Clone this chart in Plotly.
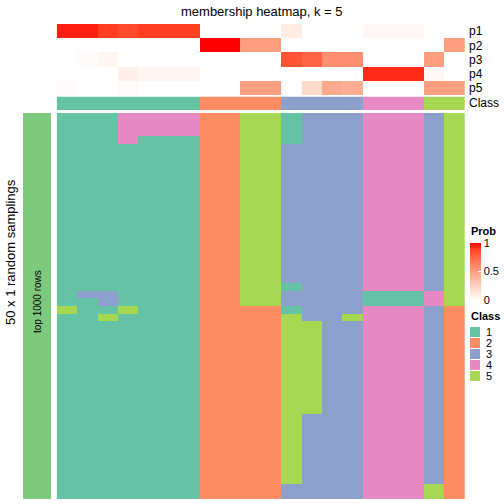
import plotly.graph_objects as go

W = H = 504
FONT = "Liberation Sans, Arial, sans-serif"

title = "membership heatmap, k = 5"
row_title = "50 x 1 random samplings"
slice_title = "top 1000 rows"
class_names = ["1", "2", "3", "4", "5"]
class_colors = ["#66C2A5", "#FC8D62", "#8DA0CB", "#E78AC3", "#A6D854"]
prob_rows = ["p1", "p2", "p3", "p4", "p5"]
class_row_label = "Class"
prob_ticks = [0, 0.5, 1]

# membership probabilities per sample (20 samples)
p1 = [0.95, 0.95, 0.90, 0.86, 0.90, 0.90, 0.90, 0, 0, 0, 0, 0.10, 0, 0, 0, 0.04, 0.04, 0.04, 0, 0]
p2 = [0, 0, 0, 0, 0, 0, 0, 1.0, 1.0, 0.5, 0.5, 0, 0, 0, 0, 0, 0, 0, 0, 0.5]
p3 = [0, 0.02, 0.05, 0, 0, 0, 0, 0, 0, 0, 0, 0.82, 0.76, 0.57, 0.57, 0, 0, 0, 0.5, 0]
p4 = [0, 0, 0, 0.08, 0.05, 0.05, 0.05, 0, 0, 0, 0, 0, 0, 0, 0, 0.93, 0.93, 0.93, 0.04, 0]
p5 = [0.02, 0, 0, 0.02, 0, 0, 0, 0, 0, 0.5, 0.5, 0, 0.2, 0.44, 0.42, 0, 0, 0, 0.5, 0.5]
sample_class = [1, 1, 1, 1, 1, 1, 1, 2, 2, 2, 2, 3, 3, 3, 3, 4, 4, 4, 5, 5]

# class assignment in each of 50 samplings, one string per sample (rows top->bottom)
samplings = [
    "1111111111 1111111111 1111151111 1111111111 1111111111",
    "1111111111 1111111111 1113111111 1111111111 1111111111",
    "1111111111 1111111111 1113315111 1111111111 1111111111",
    "4444111111 1111111111 1111151111 1111111111 1111111111",
    "4441111111 1111111111 1111111111 1111111111 1111111111",
    "4441111111 1111111111 1111111111 1111111111 1111111111",
    "4441111111 1111111111 1111111111 1111111111 1111111111",
    "2222222222 2222222222 2222222222 2222222222 2222222222",
    "2222222222 2222222222 2222222222 2222222222 2222222222",
    "5555555555 5555555555 5555522222 2222222222 2222222222",
    "5555555555 5555555555 5555522222 2222222222 2222222222",
    "1111333333 3333333333 3313315555 5555555555 5555555533",
    "3333333333 3333333333 3333333555 5555555553 3333333333",
    "3333333333 3333333333 3333333333 3333333333 3333333333",
    "3333333333 3333333333 3333335333 3333333333 3333333333",
    "4444444444 4444444444 4441144444 4444444444 4444444444",
    "4444444444 4444444444 4441144444 4444444444 4444444444",
    "4444444444 4444444444 4441144444 4444444444 4444444444",
    "3333333333 3333333333 3334433333 3333333333 3333333355",
    "5555555555 5555555555 5555522222 2222222222 2222222222",
]

cols = [[int(ch) for ch in s.replace(" ", "")] for s in samplings]
n_rows = len(cols[0])
n_cols = len(cols)
main_z = [[cols[c][r] for c in range(n_cols)] for r in range(n_rows)]


# ---------- colour helpers (white -> red in LAB space) ----------
def srgb_to_lin(c):
    c = c / 255
    return c / 12.92 if c <= 0.04045 else ((c + 0.055) / 1.055) ** 2.4


def lin_to_srgb(c):
    c = max(0.0, min(1.0, c))
    v = 12.92 * c if c <= 0.0031308 else 1.055 * c ** (1 / 2.4) - 0.055
    return int(round(v * 255))


WHITE = (0.95047, 1.0, 1.08883)


def rgb_to_lab(rgb):
    r, g, b = [srgb_to_lin(v) for v in rgb]
    X = 0.4124 * r + 0.3576 * g + 0.1805 * b
    Y = 0.2126 * r + 0.7152 * g + 0.0722 * b
    Z = 0.0193 * r + 0.1192 * g + 0.9505 * b

    def f(t):
        return t ** (1 / 3) if t > 0.008856 else 7.787 * t + 16 / 116

    fx, fy, fz = f(X / WHITE[0]), f(Y / WHITE[1]), f(Z / WHITE[2])
    return (116 * fy - 16, 500 * (fx - fy), 200 * (fy - fz))


def lab_to_rgb(lab):
    L, a, b = lab
    fy = (L + 16) / 116
    fx = fy + a / 500
    fz = fy - b / 200

    def finv(t):
        return t ** 3 if t ** 3 > 0.008856 else (t - 16 / 116) / 7.787

    X, Y, Z = finv(fx) * WHITE[0], finv(fy) * WHITE[1], finv(fz) * WHITE[2]
    r = 3.2406 * X - 1.5372 * Y - 0.4986 * Z
    g = -0.9689 * X + 1.8758 * Y + 0.0415 * Z
    bb = 0.0557 * X - 0.2040 * Y + 1.0570 * Z
    return "rgb(%d,%d,%d)" % (lin_to_srgb(r), lin_to_srgb(g), lin_to_srgb(bb))


lw, lr = rgb_to_lab((255, 255, 255)), rgb_to_lab((255, 0, 0))
prob_scale = []
for i in range(11):
    t = i / 10
    prob_scale.append([t, lab_to_rgb(tuple(lw[k] + (lr[k] - lw[k]) * t for k in range(3)))])

class_scale = []
for i, c in enumerate(class_colors):
    class_scale.append([i / len(class_colors), c])
    class_scale.append([(i + 1) / len(class_colors), c])


def px(x):
    return x / W


def py(y):
    return 1 - y / H


X0, X1 = 56.7, 465.0
fig = go.Figure()

# top probability annotation
fig.add_trace(go.Heatmap(
    z=[p1, p2, p3, p4, p5], x=list(range(n_cols)), y=list(range(5)),
    colorscale=prob_scale, zmin=0, zmax=1, xaxis="x2", yaxis="y2",
    hoverinfo="skip",
    colorbar=dict(
        x=px(470), xanchor="left", y=py(243), yanchor="top",
        len=57 / H, lenmode="fraction", thickness=11, thicknessmode="pixels",
        xpad=0, ypad=0, outlinewidth=0,
        tickvals=prob_ticks, ticktext=[str(v) for v in prob_ticks],
        ticks="inside", ticklen=3, tickcolor="white",
        tickfont=dict(family=FONT, size=11, color="black"),
    ),
))

# class annotation row
fig.add_trace(go.Heatmap(
    z=[sample_class], x=list(range(n_cols)), y=[0],
    colorscale=class_scale, zmin=0.5, zmax=5.5, showscale=False,
    xaxis="x3", yaxis="y3", hoverinfo="skip",
))

# main membership heatmap
fig.add_trace(go.Heatmap(
    z=main_z, x=list(range(n_cols)), y=list(range(n_rows)),
    colorscale=class_scale, zmin=0.5, zmax=5.5, showscale=False,
    xaxis="x", yaxis="y", hoverinfo="skip",
))

# left slice bar
fig.add_trace(go.Heatmap(
    z=[[1]], x=[0], y=[0],
    colorscale=[[0, "#7FC97F"], [1, "#7FC97F"]], showscale=False,
    xaxis="x4", yaxis="y4", hoverinfo="skip",
))

hidden = dict(visible=False, showgrid=False, zeroline=False, fixedrange=True)
fig.update_layout(
    width=W, height=H, margin=dict(l=0, r=0, t=0, b=0),
    paper_bgcolor="white", plot_bgcolor="white",
    font=dict(family=FONT, color="black"),
    showlegend=False,
    xaxis=dict(domain=[px(X0), px(X1)], range=[-0.5, n_cols - 0.5], anchor="y", **hidden),
    yaxis=dict(domain=[py(499), py(113)], range=[n_rows - 0.5, -0.5], anchor="x", **hidden),
    xaxis2=dict(domain=[px(X0), px(X1)], range=[-0.5, n_cols - 0.5], anchor="y2", **hidden),
    yaxis2=dict(domain=[py(95), py(24)], range=[4.5, -0.5], anchor="x2", side="right",
                showgrid=False, zeroline=False, showline=False, ticks="",
                tickvals=list(range(5)), ticktext=prob_rows, ticklabelstandoff=3,
                tickfont=dict(family=FONT, size=12, color="black")),
    xaxis3=dict(domain=[px(X0), px(X1)], range=[-0.5, n_cols - 0.5], anchor="y3", **hidden),
    yaxis3=dict(domain=[py(110), py(96.5)], range=[0.5, -0.5], anchor="x3", side="right",
                showgrid=False, zeroline=False, showline=False, ticks="",
                tickvals=[0], ticktext=[class_row_label], ticklabelstandoff=3,
                tickfont=dict(family=FONT, size=12, color="black")),
    xaxis4=dict(domain=[px(23), px(51)], range=[-0.5, 0.5], anchor="y4", **hidden),
    yaxis4=dict(domain=[py(499), py(113)], range=[0.5, -0.5], anchor="x4", **hidden),
)

annotations = [
    dict(text=title, x=px(262), y=py(11), xref="paper", yref="paper",
         xanchor="center", yanchor="middle", showarrow=False,
         font=dict(family=FONT, size=13, color="black")),
    dict(text=row_title, x=px(10), y=py(252), xref="paper", yref="paper",
         xanchor="center", yanchor="middle", textangle=-90, showarrow=False,
         font=dict(family=FONT, size=13, color="black")),
    dict(text=slice_title, x=px(37), y=py(302), xref="paper", yref="paper",
         xanchor="center", yanchor="middle", textangle=-90, showarrow=False,
         font=dict(family=FONT, size=10, color="black")),
    dict(text="<b>Prob</b>", x=px(469), y=py(231), xref="paper", yref="paper",
         xanchor="left", yanchor="middle", showarrow=False,
         font=dict(family=FONT, size=11, color="black")),
    dict(text="<b>Class</b>", x=px(469), y=py(316), xref="paper", yref="paper",
         xanchor="left", yanchor="middle", showarrow=False,
         font=dict(family=FONT, size=11, color="black")),
]
shapes = []
for i, (name, col) in enumerate(zip(class_names, class_colors)):
    top = 327 + 11 * i
    shapes.append(dict(type="rect", xref="paper", yref="paper",
                       x0=px(470), x1=px(480), y0=py(top + 10), y1=py(top),
                       fillcolor=col, line=dict(width=0)))
    annotations.append(dict(text=name, x=px(484), y=py(top + 5), xref="paper", yref="paper",
                            xanchor="left", yanchor="middle", showarrow=False,
                            font=dict(family=FONT, size=11, color="black")))
fig.update_layout(annotations=annotations, shapes=shapes)

fig.write_html("out.html", config={"displayModeBar": False},
               post_script="document.body.style.margin='0';document.body.style.padding='0';")
